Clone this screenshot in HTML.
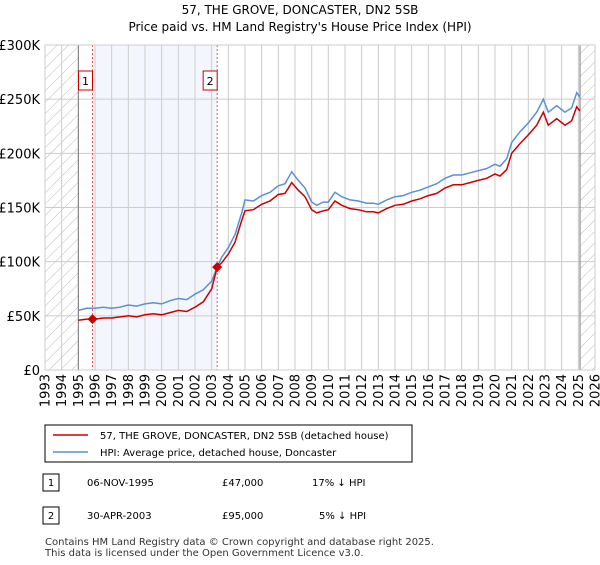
<!DOCTYPE html>
<html><head><meta charset="utf-8"><style>
body{margin:0;background:#fff;font-family:"Liberation Sans","DejaVu Sans",sans-serif;}
</style></head><body>
<svg width="600" height="560" xmlns="http://www.w3.org/2000/svg" font-family="DejaVu Sans, Liberation Sans, sans-serif">
<defs><pattern id="hatch" width="8" height="8" patternUnits="userSpaceOnUse" patternTransform="rotate(45)"><line x1="0" y1="0" x2="0" y2="8" stroke="#bbb" stroke-width="1"/></pattern></defs>
<text x="300" y="14" text-anchor="middle" font-size="12">57, THE GROVE, DONCASTER, DN2 5SB</text>
<text x="300" y="31" text-anchor="middle" font-size="12">Price paid vs. HM Land Registry's House Price Index (HPI)</text>
<g id="plot"></g>
<rect x="45" y="425" width="367" height="37" fill="#fff" stroke="#000"/>
<line x1="53" y1="435" x2="88" y2="435" stroke="#cc0000" stroke-width="1.5"/>
<text x="100" y="439" font-size="10">57, THE GROVE, DONCASTER, DN2 5SB (detached house)</text>
<line x1="53" y1="452" x2="88" y2="452" stroke="#5b8fd6" stroke-width="1.5"/>
<text x="100" y="456" font-size="10">HPI: Average price, detached house, Doncaster</text>
<g font-size="10">
<rect x="43" y="474" width="16" height="17" fill="#fff" stroke="#000"/><text x="51" y="486" text-anchor="middle">1</text>
<text x="87" y="486">06-NOV-1995</text><text x="222" y="486">£47,000</text><text x="312" y="486">17% ↓ HPI</text>
<rect x="43" y="507" width="16" height="17" fill="#fff" stroke="#000"/><text x="51" y="519" text-anchor="middle">2</text>
<text x="87" y="519">30-APR-2003</text><text x="222" y="519">£95,000</text><text x="319" y="519">5% ↓ HPI</text>
</g>
<text x="45" y="545" font-size="10" fill="#333">Contains HM Land Registry data © Crown copyright and database right 2025.</text>
<text x="45" y="556" font-size="10" fill="#333">This data is licensed under the Open Government Licence v3.0.</text>
</svg>
<script>
const hpiYears=[1995.0,1995.5,1996,1996.5,1997,1997.5,1998,1998.5,1999,1999.5,2000,2000.5,2001,2001.5,2002,2002.5,2003,2003.33,2003.6,2004,2004.4,2004.8,2005,2005.5,2006,2006.5,2007,2007.4,2007.8,2008.2,2008.6,2009,2009.3,2009.7,2010,2010.4,2010.8,2011.3,2011.8,2012.3,2012.7,2013,2013.5,2014,2014.5,2015,2015.5,2016,2016.5,2017,2017.5,2018,2018.5,2019,2019.5,2020,2020.3,2020.7,2021,2021.5,2022,2022.5,2022.9,2023.2,2023.7,2024.2,2024.6,2024.9,2025.1];
const hpiValues=[55,57,57,58,57,58,60,59,61,62,61,64,66,65,70,74,82,95,104,113,125,145,157,156,161,164,170,172,183,175,168,155,152,155,155,164,160,157,156,154,154,153,157,160,161,164,166,169,172,177,180,180,182,184,186,190,188,195,210,220,228,238,250,238,244,238,242,256,252];
const priceValues=[46,47,47,48,48,49,50,49,51,52,51,53,55,54,58,63,75,95,99,107,118,138,147,148,153,156,162,163,173,166,160,148,145,147,148,156,152,149,148,146,146,145,149,152,153,156,158,161,163,168,171,171,173,175,177,181,179,185,200,209,217,226,238,226,232,226,230,243,239];
const saleYears=[1995.85,2003.33];
const saleValues=[47,95];
const saleLabels=["1","2"];
const yTicks=[0,50,100,150,200,250,300];
const yTickLabels=["£0","£50K","£100K","£150K","£200K","£250K","£300K"];
const xMin=1993,xMax=2026,dataStart=1995.0,dataEnd=2025.1;
const X0=45,X1=595,Y0=370,Y1=45;
const sx=v=>X0+(v-xMin)/(xMax-xMin)*(X1-X0);
const sy=v=>Y0-v/300*(Y0-Y1);
const NS="http://www.w3.org/2000/svg";
const g=document.getElementById('plot');
function mk(t,a){const e=document.createElementNS(NS,t);for(const k in a)e.setAttribute(k,a[k]);g.appendChild(e);return e;}
let e;
e=mk('rect',{x:sx(saleYears[0]),y:Y1,width:sx(saleYears[1])-sx(saleYears[0]),height:Y0-Y1,fill:'#eef3fc',opacity:0.7});


e=mk('rect',{x:X0,y:Y1,width:sx(dataStart)-X0,height:Y0-Y1,fill:'url(#hatch)'});


e=mk('rect',{x:sx(dataEnd),y:Y1,width:X1-sx(dataEnd),height:Y0-Y1,fill:'url(#hatch)'});


for(let y=xMin;y<=xMax;y++){
 e=mk('line',{x1:sx(y),x2:sx(y),y1:Y1,y2:Y0,stroke:'#ccc','stroke-width':1});
 
 
 e=mk('text',{x:0,y:0,'font-size':13,'text-anchor':'end',transform:`translate(${sx(y)+4.5},374) rotate(-90)`});
 e.textContent=String(y);
 
 
}
yTicks.forEach((t,i)=>{
 e=mk('line',{x1:X0,x2:X1,y1:sy(t),y2:sy(t),stroke:'#ccc','stroke-width':1});
 
 
 e=mk('text',{x:40,y:sy(t)+5,'font-size':13,'text-anchor':'end'});
 e.textContent=yTickLabels[i];
 
 
});
[dataStart,dataEnd].forEach(v=>{
 e=mk('line',{x1:sx(v),x2:sx(v),y1:Y1,y2:Y0,stroke:'#777','stroke-width':1});
 
 
});
saleYears.forEach((v,i)=>{
 e=mk('line',{x1:sx(v),x2:sx(v),y1:Y1,y2:Y0,stroke:'#ee5555','stroke-width':1,'stroke-dasharray':'2,2'});
 
 
 e=mk('rect',{x:sx(v)-14,y:71,width:14,height:19,fill:'#fff',stroke:'#cc0000'});
 
 
 e=mk('text',{x:sx(v)-7,y:85,'font-size':11,'text-anchor':'middle'});
 e.textContent=saleLabels[i];
 
 
});
const pts=a=>a.map((v,i)=>sx(hpiYears[i]).toFixed(1)+','+sy(v).toFixed(1)).join(' ');
e=mk('polyline',{points:pts(hpiValues),fill:'none',stroke:'#5b8fd6','stroke-width':1.5});


e=mk('polyline',{points:pts(priceValues),fill:'none',stroke:'#cc0000','stroke-width':1.5});


saleYears.forEach((v,i)=>{
 const cx=sx(v),cy=sy(saleValues[i]);
 e=mk('polygon',{points:`${cx},${cy-5} ${cx+5},${cy} ${cx},${cy+5} ${cx-5},${cy}`,fill:'#cc0000'});
 
 
});
e=mk('rect',{x:X0,y:Y1,width:X1-X0,height:Y0-Y1,fill:'none',stroke:'#ccc'});


</script>
</body></html>
